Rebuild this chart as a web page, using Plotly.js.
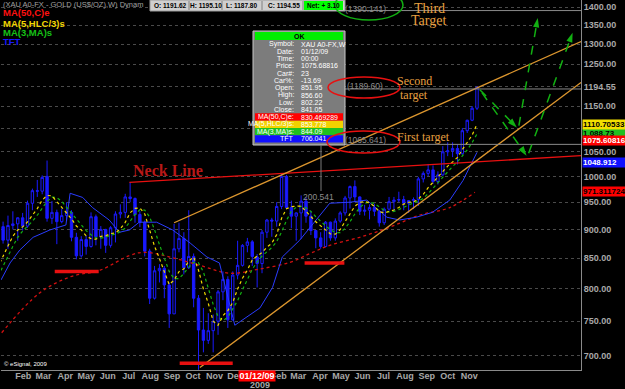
<!DOCTYPE html>
<html><head><meta charset="utf-8">
<script src="https://cdn.plot.ly/plotly-3.0.1.min.js"></script>
<style>html,body{margin:0;padding:0;background:#000;}#chart{width:625px;height:389px;}</style>
</head><body><div id="chart"></div>
<script>
// ---------- weekly gold candles (week start) ----------
const weeks = ['2007-11-26','2007-12-03','2007-12-10','2007-12-17','2007-12-24','2007-12-31','2008-01-07',
'2008-01-14','2008-01-21','2008-01-28','2008-02-04','2008-02-11','2008-02-18','2008-02-25','2008-03-03','2008-03-10','2008-03-17','2008-03-24','2008-03-31',
'2008-04-07','2008-04-14','2008-04-21','2008-04-28','2008-05-05','2008-05-12','2008-05-19','2008-05-26','2008-06-02','2008-06-09','2008-06-16','2008-06-23','2008-06-30',
'2008-07-07','2008-07-14','2008-07-21','2008-07-28','2008-08-04','2008-08-11','2008-08-18','2008-08-25','2008-09-01','2008-09-08','2008-09-15','2008-09-22','2008-09-29',
'2008-10-06','2008-10-13','2008-10-20','2008-10-27','2008-11-03','2008-11-10','2008-11-17','2008-11-24','2008-12-01','2008-12-08','2008-12-15','2008-12-22','2008-12-29',
'2009-01-05','2009-01-12','2009-01-19','2009-01-26','2009-02-02','2009-02-09','2009-02-16','2009-02-23','2009-03-02','2009-03-09','2009-03-16','2009-03-23','2009-03-30',
'2009-04-06','2009-04-13','2009-04-20','2009-04-27','2009-05-04','2009-05-11','2009-05-18','2009-05-25','2009-06-01','2009-06-08','2009-06-15','2009-06-22','2009-06-29',
'2009-07-06','2009-07-13','2009-07-20','2009-07-27','2009-08-03','2009-08-10','2009-08-17','2009-08-24','2009-08-31','2009-09-07','2009-09-14','2009-09-21','2009-09-28',
'2009-10-05','2009-10-12','2009-10-19','2009-10-26','2009-11-02','2009-11-09','2009-11-16','2009-11-23'];
const openP = [828,783,803,799,812,836,860,
905,881,907,910,921,906,948,972,971,1000,920,931,
914,925,931,886,854,882,870,923,887,900,872,903,928,
931,960,957,927,913,862,785,829,833,806,761,866,884,
834,853,785,737,722,736,750,795,815,752,822,838,872,
878,852,841,895,917,915,942,1000,940,924,930,952,924,
898,885,870,913,885,915,930,958,980,960,933,935,940,
933,912,937,951,954,955,948,953,955,995,1006,1013,990,
1003,1050,1052,1057,1046,1095,1118,1145];
const highP = [835,805,834,813,842,866,898,
914,925,933,922,930,953,976,993,1002,1032,952,936,
938,950,935,894,888,889,931,927,906,901,906,933,946,
966,988,959,933,916,866,837,840,837,810,910,912,895,
935,858,790,770,762,760,798,828,820,828,880,874,885,
881,857,899,919,921,950,1006,1003,953,931,963,959,934,
898,895,915,914,920,933,962,982,992,961,945,946,947,
935,940,960,960,970,962,954,959,999,1010,1025,1022,1010,
1062,1070,1070,1066,1101,1119,1150,1195];
const lowP = [780,782,797,788,811,832,855,
875,866,900,880,898,903,935,960,965,914,910,874,
911,915,879,848,851,856,868,872,866,859,868,877,920,
921,950,912,904,853,776,783,810,785,740,761,860,823,
832,771,681,705,717,705,730,782,740,751,815,836,860,
837,802,825,885,887,905,937,937,902,880,883,912,890,
867,866,869,880,880,912,925,938,950,926,925,918,924,
905,908,934,932,950,935,930,937,943,988,1000,985,984,
1001,1041,1039,1024,1044,1090,1116,1141];
const closeP = [783,803,799,812,836,860,897,
881,907,910,921,906,948,972,971,998,920,931,914,
925,931,886,854,882,870,923,887,900,872,903,928,931,
960,957,927,913,862,785,829,833,806,761,866,884,834,
853,785,737,722,736,750,795,815,752,822,838,872,878,
853,841,895,917,915,942,1000,940,924,930,952,924,898,
885,870,913,885,915,930,958,980,960,933,935,940,933,
912,937,951,954,955,948,953,955,995,1006,1013,990,1003,
1050,1052,1057,1046,1095,1118,1145,1194];

// ---------- indicator lines ----------
const emaDates = ['2008-01-12','2008-03-06','2008-04-19','2008-06-01','2008-07-14','2008-08-04','2008-09-09','2008-10-22','2008-12-04','2009-01-16','2009-02-28','2009-03-29','2009-04-26','2009-06-08','2009-07-21','2009-09-02','2009-10-15','2009-11-20'];
const emaVals  = [733,793,819,830,855,860,852,838,825,832,843,858,872,886,904,926,940,969];
const tftDates = ['2008-01-11','2008-01-24','2008-02-07','2008-02-26','2008-03-21','2008-04-13','2008-04-19','2008-05-07','2008-05-21','2008-06-14','2008-06-29','2008-07-13','2008-07-27','2008-08-21','2008-09-13','2008-10-08','2008-11-01','2008-11-19','2008-12-11','2009-01-16','2009-02-03','2009-02-17','2009-03-14','2009-04-26','2009-05-25','2009-06-18','2009-07-17','2009-08-04','2009-08-28','2009-09-20','2009-10-15','2009-11-03','2009-11-23'];
const tftVals  = [814,842,864,886,899,908,967,959,940,917,895,899,913,913,899,876,852,842,744,770,802,852,881,948,950,954,922,917,922,931,954,992,1049];

// ---------- drawn lines ----------
const upperChannelDates = ['2008-09-15','2010-04-21'], upperChannelVals = [912,1307];
const lowerChannelDates = ['2008-10-22','2010-04-21'], lowerChannelVals = [684,1205];
const neckDates = ['2008-07-13','2010-04-21'], neckVals = [988,1042];
const supportStart = ['2008-03-28','2008-09-23','2009-03-21'];
const supportEnd   = ['2008-05-30','2008-12-08','2009-05-17'];
const supportVals  = [828,690,842];
const targetStart = '2009-05-17', targetEnd = '2010-04-21';
const targetVals = [1390.141,1189.60,1065.641];
const targetLabels = ['(1390.141)','(1189.60)','(1065.641)'];
const projStartDates = ['2009-11-27','2009-11-30','2010-01-22','2010-02-05'];
const projEndDates   = ['2010-01-19','2010-02-02','2010-02-18','2010-04-09'];
const projStartVals  = [1188,1181,1106,1047];
const projEndVals    = [1102,1042,1370,1330];

// ---------- axis labels (label sits just after the month's first bar) ----------
const monthTicks = ['2008-02-12','2008-03-12','2008-04-12','2008-05-12','2008-06-12','2008-07-12','2008-08-12','2008-09-12','2008-10-12','2008-11-12','2008-12-12',
'2009-02-12','2009-03-12','2009-04-12','2009-05-12','2009-06-12','2009-07-12','2009-08-12','2009-09-12','2009-10-12','2009-11-12'];
const monthText = ['Feb','Mar','Apr','May','Jun','Jul','Aug','Sep','Oct','Nov','Dec','Feb','Mar','Apr','May','Jun','Jul','Aug','Sep','Oct','Nov'];
const priceTicks = [700,750,800,850,900,950,1000,1050,1100,1150,1194.55,1250,1300,1350,1400];

// info box
const infoLabels = ['Symbol:','Date:','Time:','Price:','Car#:','Car%:','Open:','High:','Low:','Close:','MA(50,C)e:','MA(5,HLC/3)s:','MA(3,MA)s:','TFT'];
const infoValues = ['XAU A0-FX,W','01/12/09','00:00','1075.68816','23','-13.69','851.95','856.60','802.22','841.05','830.469289','853.778','844.09','706.041'];

// ---------- derived MA lines ----------
const typical = highP.map((h,i)=>(h+lowP[i]+closeP[i])/3);
const ma5 = typical.map((v,i)=> i<4 ? null : (typical[i]+typical[i-1]+typical[i-2]+typical[i-3]+typical[i-4])/5);
const ma3 = ma5.map((v,i)=> (i<6) ? null : (ma5[i]+ma5[i-1]+ma5[i-2])/3);

const BLUE='#1a1aff', RED='#e81010', ORANGE='#dc962e', GREEN='#12b012', YEL='#f0d800';
const SANS='Liberation Sans, Arial';
const traces = [];
traces.push({type:'candlestick', x:weeks, open:openP, high:highP, low:lowP, close:closeP,
  increasing:{line:{color:BLUE,width:1}, fillcolor:'#000000'},
  decreasing:{line:{color:BLUE,width:1}, fillcolor:BLUE},
  whiskerwidth:0, hoverinfo:'skip', showlegend:false});
traces.push({type:'scatter', mode:'lines', x:emaDates, y:emaVals, line:{color:'#d01010', width:1.3, dash:'dot', shape:'spline'}, hoverinfo:'skip'});
traces.push({type:'scatter', mode:'lines', x:tftDates, y:tftVals, line:{color:'#2a3cff', width:1}, hoverinfo:'skip'});
traces.push({type:'scatter', mode:'lines', x:weeks, y:ma3, line:{color:GREEN, width:1.2, dash:'dot'}, hoverinfo:'skip'});
traces.push({type:'scatter', mode:'lines', x:weeks, y:ma5, line:{color:YEL, width:1.2, dash:'dot'}, hoverinfo:'skip'});
traces.push({type:'scatter', mode:'lines', x:neckDates, y:neckVals, line:{color:RED, width:1.3}, hoverinfo:'skip'});
traces.push({type:'scatter', mode:'lines', x:upperChannelDates, y:upperChannelVals, line:{color:ORANGE, width:1.3}, hoverinfo:'skip'});
traces.push({type:'scatter', mode:'lines', x:lowerChannelDates, y:lowerChannelVals, line:{color:ORANGE, width:1.3}, hoverinfo:'skip'});
for (let i=0;i<supportVals.length;i++){
  traces.push({type:'scatter', mode:'lines', x:[supportStart[i],supportEnd[i]], y:[supportVals[i],supportVals[i]], line:{color:RED, width:3.5}, hoverinfo:'skip'});
}
for (let i=0;i<targetVals.length;i++){
  traces.push({type:'scatter', mode:'lines', x:[targetStart,targetEnd], y:[targetVals[i],targetVals[i]], line:{color:'#8a8a8a', width:1}, hoverinfo:'skip'});
}
for (let i=0;i<projStartDates.length;i++){
  traces.push({type:'scatter', mode:'lines+markers', x:[projStartDates[i],projEndDates[i]], y:[projStartVals[i],projEndVals[i]],
    line:{color:GREEN, width:1.5, dash:'dash'},
    marker:{symbol:['circle','arrow'], size:[1,10], opacity:[0,1], angleref:'previous', color:GREEN, line:{width:0}}, hoverinfo:'skip'});
}

// ---------- decorations (pixel placed) ----------
const PX = x => (x-1)/580, PY = y => 1 - y/370;
const shapes = [], ann = [];
function rect(x0,y0,x1,y1,fill,line){ shapes.push({type:'rect',xref:'paper',yref:'paper',x0:PX(x0),x1:PX(x1),y0:PY(y1),y1:PY(y0),fillcolor:fill,line:{color:line||fill,width:line?1:0},layer:'above'}); }
function ell(x0,y0,x1,y1,col){ shapes.push({type:'circle',xref:'paper',yref:'paper',x0:PX(x0),x1:PX(x1),y0:PY(y1),y1:PY(y0),line:{color:col,width:1.5},layer:'above'}); }
function seg(x0,y0,x1,y1,col){ shapes.push({type:'line',xref:'paper',yref:'paper',x0:PX(x0),x1:PX(x1),y0:PY(y0),y1:PY(y1),line:{color:col,width:1},layer:'above'}); }
function txt(x,y,t,size,color,o){ ann.push(Object.assign({xref:'paper',yref:'paper',x:PX(x),y:PY(y),text:t,showarrow:false,xanchor:'center',yanchor:'middle',
  font:{family:SANS,size:size,color:color}},o||{})); }
const bold7 = {family:SANS,size:6.5,color:'#000',weight:'bold'};

// title row
txt(1,5,'(XAU A0-FX - GOLD (US$/OZ),W) Dynam',7.5,'#a0a0a0',{xanchor:'left'});
rect(150,0,345,11,'#cfcfcf','#9a9a9a');
rect(304,1,343,10,'#00ff00');
seg(189,1,189,10,'#808080'); seg(222,1,222,10,'#808080'); seg(262,1,262,10,'#808080'); seg(303,1,303,10,'#808080');
txt(170,5.5,'O: 1191.62',6.5,'#000',{font:bold7});
txt(206,5.5,'H: 1195.10',6.5,'#000',{font:bold7});
txt(241,5.5,'L: 1187.80',6.5,'#000',{font:bold7});
txt(284,5.5,'C: 1194.55',6.5,'#000',{font:bold7});
txt(323,5.5,'Net: + 3.10',6.5,'#000',{font:bold7});

// legend
const legTxt = ['MA(50,C)e','MA(5,HLC/3)s','MA(3,MA)s','TFT'];
const legCol = ['#ff1010','#f2d600','#16c016','#1818ff'];
const legY = [13,23,32,42];
legTxt.forEach((t,i)=>txt(1,legY[i],t,9.5,legCol[i],{xanchor:'left',font:{family:SANS,size:9.5,color:legCol[i],weight:'bold'}}));

// info box
rect(253,31,345,145,'#7c7c7c','#c8c8c8');
rect(255,32,343,40,'#00ee00');
txt(299,36,'OK',7,'#000',{font:{family:SANS,size:7,color:'#000',weight:'bold'}});
const rowBg = [null,null,null,null,null,null,null,null,null,null,'#ff0000','#f2d200','#20c020','#1010ff'];
infoLabels.forEach((l,i)=>{
  const yc = 44 + i*7.3;
  if (rowBg[i]) rect(255,yc-3.65,343,yc+3.65,rowBg[i]);
  txt(296,yc,l,7,'#fff',{xanchor:'right'});
  txt(299,yc,infoValues[i],7,'#fff',{xanchor:'left'});
});

// targets
ell(335,-10,403,20,GREEN);
ell(328,77,400,98,RED);
ell(327,131,400,153,RED);
targetLabels.forEach((t,i)=>txt(365,[9,86,140][i],t,8.5,'#8c8c8c'));
const serif = (s,c)=>({family:'Liberation Serif, Times New Roman, serif',size:s,color:c});
txt(429,8,'Third',14,ORANGE,{font:serif(14,'#e8a040')});
txt(428,21,'Target',14,ORANGE,{font:serif(14,'#e8a040')});
txt(414,81,'Second',12,ORANGE,{font:serif(12,'#e8a040')});
txt(414,95,'target',12,ORANGE,{font:serif(12,'#e8a040')});
txt(423,137,'First target',12,ORANGE,{font:serif(12,'#e8a040')});
txt(168,170,'Neck Line',16,'#b81818',{font:{family:'Liberation Serif, Times New Roman, serif',size:16,color:'#b81818',weight:'bold'}});
seg(321,145,321,191,'#7a7a7a');
txt(318,197,'200.541',8.5,'#8c8c8c');
txt(2,364,'© eSignal, 2009',6,'#ffffff',{xanchor:'left'});

// right value tags
function tag(yc,t,bg,fg){ ann.push({xref:'paper',yref:'paper',x:PX(582),y:PY(yc),xanchor:'left',yanchor:'middle',text:t,showarrow:false,
  bgcolor:bg,borderpad:0,width:43,height:9,align:'left',font:{family:SANS,size:8,color:fg,weight:'bold'}}); }
tag(133,'1,088.73','#20c020','#000');
tag(124.5,'1110.70533','#f4e000','#000');
tag(140,'1075.60816','#ff0000','#fff');
tag(162,'1048.912','#1010ff','#fff');
tag(191.5,'971.311724','#ff0000','#000');

// date cursor tag and year
ann.push({xref:'paper',yref:'paper',x:PX(257),y:PY(376),text:'01/12/09',showarrow:false,bgcolor:'#ff0000',borderpad:0,width:36,height:10,
  font:{family:SANS,size:9,color:'#fff',weight:'bold'},xanchor:'center',yanchor:'middle'});
txt(260,384.5,'2009',9,'#a8a8a8',{font:{family:SANS,size:9,color:'#a8a8a8',weight:'bold'}});

const layout = {
  width:625, height:389, margin:{l:1,r:44,t:0,b:19},
  paper_bgcolor:'#000', plot_bgcolor:'#000', showlegend:false,
  font:{family:SANS, color:'#a8a8a8'},
  xaxis:{type:'date', range:['2008-01-11','2010-04-21'], rangeslider:{visible:false},
    tickmode:'array', tickvals:monthTicks, ticktext:monthText, ticks:'', ticklen:0, ticklabelstandoff:-3,
    tickfont:{family:SANS,size:9,color:'#a8a8a8',weight:'bold'},
    showgrid:false, showline:true, linecolor:'#8a8a8a', linewidth:1, zeroline:false, fixedrange:true},
  yaxis:{type:'log', side:'right', range:[Math.log10(680.7), Math.log10(1419.6)],
    tickmode:'array', tickvals:priceTicks, ticktext:priceTicks.map(v=>v.toFixed(2)), ticks:'', ticklen:0,
    tickfont:{family:SANS,size:9,color:'#a8a8a8',weight:'bold'},
    showgrid:true, gridcolor:'#4a4a4a', griddash:'dot', gridwidth:1,
    showline:true, linecolor:'#8a8a8a', linewidth:1, zeroline:false, fixedrange:true},
  shapes:shapes, annotations:ann
};
Plotly.newPlot('chart', traces, layout, {staticPlot:true, displayModeBar:false});
</script></body></html>
